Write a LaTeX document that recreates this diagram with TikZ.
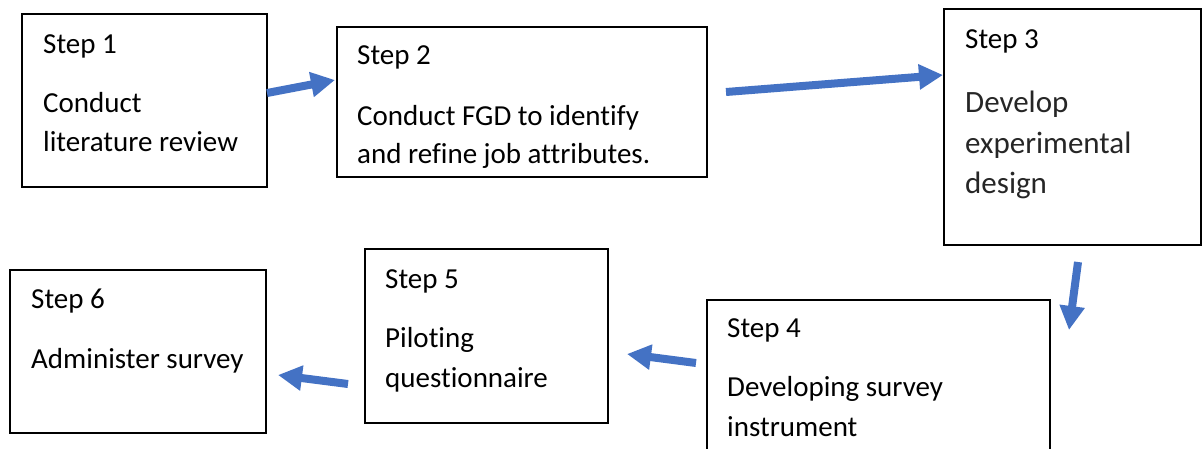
\documentclass[tikz,border=0pt]{standalone}
\usepackage{fontspec}
\setmainfont{Carlito}[Ligatures=CommonOff]
\usetikzlibrary{arrows.meta}
\definecolor{flowblue}{HTML}{4472C4}
\begin{document}
\begin{tikzpicture}[x=1pt,y=-1pt,
  stepbox/.style={draw=black, line width=1.6pt, anchor=north west,
    inner sep=0pt, outer sep=0pt},
  txt/.style={anchor=base west, inner sep=0pt, font=\fontsize{29}{35}\selectfont},
  bigtxt/.style={anchor=base west, inner sep=0pt, text=black!85,
    font=\fontsize{31}{38}\selectfont},
  flow/.style={draw=flowblue, line width=8pt,
    -{Triangle[length=24pt,width=24pt]}}]

\clip (0,0) rectangle (1202,448);

% step boxes
\node[stepbox, minimum width=245pt, minimum height=173pt] (s1) at (22,14) {};
\node[stepbox, minimum width=370pt, minimum height=150pt] (s2) at (337,27) {};
\node[stepbox, minimum width=257pt, minimum height=236pt] (s3) at (944,9) {};
\node[stepbox, minimum width=343pt, minimum height=154pt] (s4) at (707,300) {};
\node[stepbox, minimum width=243pt, minimum height=174pt] (s5) at (365,249) {};
\node[stepbox, minimum width=256pt, minimum height=163pt] (s6) at (10,270) {};

% box texts
\node[txt] (t1a) at (43,53)  {Step 1};
\node[txt] (t1b) at (43,112) {Conduct};
\node[txt] (t1c) at (43,151) {literature review};

\node[txt] (t2a) at (357,64)  {Step 2};
\node[txt] (t2b) at (357,125) {Conduct FGD to identify};
\node[txt] (t2c) at (357,163) {and refine job attributes.};

\node[txt]    (t3a) at (965,48)  {Step 3};
\node[bigtxt] (t3b) at (965,112) {Develop};
\node[bigtxt] (t3c) at (965,153) {experimental};
\node[bigtxt] (t3d) at (965,193) {design};

\node[txt] (t4a) at (727,337) {Step 4};
\node[txt] (t4b) at (727,396) {Developing survey};
\node[txt] (t4c) at (727,436) {instrument};

\node[txt] (t5a) at (385,288) {Step 5};
\node[txt] (t5b) at (385,347) {Piloting};
\node[txt] (t5c) at (385,387) {questionnaire};

\node[txt] (t6a) at (31,308) {Step 6};
\node[txt] (t6b) at (31,368) {Administer survey};

% arrow end points
\coordinate (a1s) at (267,93);   \coordinate (a1e) at (335,80);
\coordinate (a2s) at (726,92);   \coordinate (a2e) at (943,75);
\coordinate (a3s) at (1078,262); \coordinate (a3e) at (1069,330);
\coordinate (a4s) at (696,363);  \coordinate (a4e) at (627,354);
\coordinate (a5s) at (348,384);  \coordinate (a5e) at (278,375);

% flow arrows
\draw[flow] (a1s) -- (a1e);
\draw[flow] (a2s) -- (a2e);
\draw[flow] (a3s) -- (a3e);
\draw[flow] (a4s) -- (a4e);
\draw[flow] (a5s) -- (a5e);
\end{tikzpicture}
\end{document}
